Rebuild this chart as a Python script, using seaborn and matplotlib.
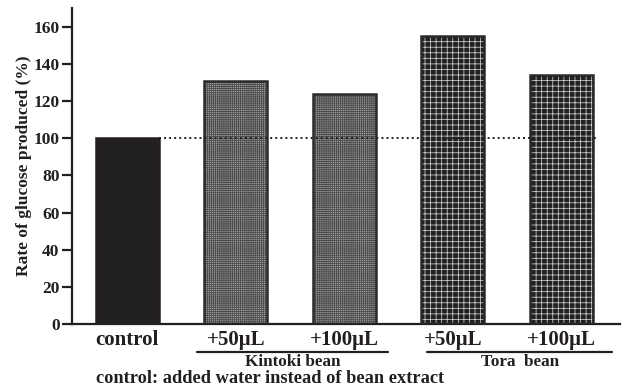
import matplotlib
matplotlib.use('Agg')
import matplotlib.pyplot as plt
import matplotlib.transforms as mtransforms
from matplotlib.patches import Rectangle
import seaborn as sns
import pandas as pd

# data
keys = ['control', 'k50', 'k100', 't50', 't100']
tick_labels = ['control', '+50\u03bcL', '+100\u03bcL', '+50\u03bcL', '+100\u03bcL']
rates = [100, 131, 124, 155, 134]
groups = ['Kintoki bean', 'Tora  bean']
baseline = 100
footnote = 'control: added water instead of bean extract'

sns.set_style('ticks')
plt.rcParams['font.family'] = ['Liberation Serif', 'DejaVu Serif']
plt.rcParams['font.weight'] = 'bold'
plt.rcParams['hatch.linewidth'] = 0.55

df = pd.DataFrame({'key': keys, 'rate': rates})

fig = plt.figure(figsize=(6.25, 3.89), dpi=100)
ax = fig.add_axes([0.1152, 0.167, 0.8768, 0.812])

face = {'control': '#231f20', 'k50': '#9c9c9c', 'k100': '#9c9c9c',
        't50': '#231f20', 't100': '#231f20'}
sns.barplot(data=df, x='key', y='rate', hue='key', order=keys,
            palette=face, width=0.58, legend=False, ax=ax, zorder=2)

hatch_style = {'control': (None, '#231f20'),
               'k50': ('++++++++', '#4a4a4a'), 'k100': ('++++++++', '#4a4a4a'),
               't50': ('+++', '#cfcfcf'), 't100': ('+++', '#cfcfcf')}
for k, p in zip(keys, ax.patches):
    h, c = hatch_style[k]
    p.set_edgecolor(c)
    p.set_linewidth(0)
    if h:
        p.set_hatch(h)
    outline = Rectangle(p.get_xy(), p.get_width(), p.get_height(), fill=False,
                        edgecolor='#2a2a2a' if k != 'control' else '#231f20',
                        lw=1.8, zorder=3)
    ax.add_patch(outline)

# dotted reference line at control level
x0 = ax.patches[0].get_x() + ax.patches[0].get_width()
ax.plot([x0, 4.33], [baseline, baseline], color='#231f20', lw=1.4,
        linestyle=(0, (1, 1.6)), zorder=4)

ax.set_xlim(-0.51, 4.54)
ax.set_ylim(0, 170)
ax.set_yticks(range(0, 161, 20))
ax.tick_params(axis='y', length=7, width=1.6, labelsize=12.5, pad=2,
               colors='#231f20')
ax.tick_params(axis='x', length=0, labelsize=15, pad=4, colors='#231f20')
ax.set_xticks(range(len(keys)))
ax.set_xticklabels(tick_labels, fontweight='bold')
for t in ax.get_yticklabels():
    t.set_fontweight('bold')
ax.set_xlabel('')
ax.set_ylabel('Rate of glucose produced (%)', fontsize=12.5, fontweight='bold',
              labelpad=1, color='#231f20')
for s in ['left', 'bottom']:
    ax.spines[s].set_linewidth(1.6)
    ax.spines[s].set_color('#231f20')
sns.despine(ax=ax)

# group brackets below the tick labels
trans = mtransforms.blended_transform_factory(ax.transData, ax.transAxes)
spans = [(0.64, 2.40), (2.76, 4.47)]
for name, (a, b) in zip(groups, spans):
    ax.plot([a, b], [-0.087, -0.087], color='#231f20', lw=1.6,
            transform=trans, clip_on=False)
    ax.text((a + b) / 2, -0.133, name, transform=trans, ha='center',
            va='baseline', fontsize=12.3, fontweight='bold', color='#231f20')

# footnote starts near control bar left edge
ax.text(ax.patches[0].get_x(), -0.187, footnote, transform=trans, ha='left',
        va='baseline', fontsize=13.2, fontweight='bold', color='#231f20')

fig.savefig('out.png', dpi=100)
